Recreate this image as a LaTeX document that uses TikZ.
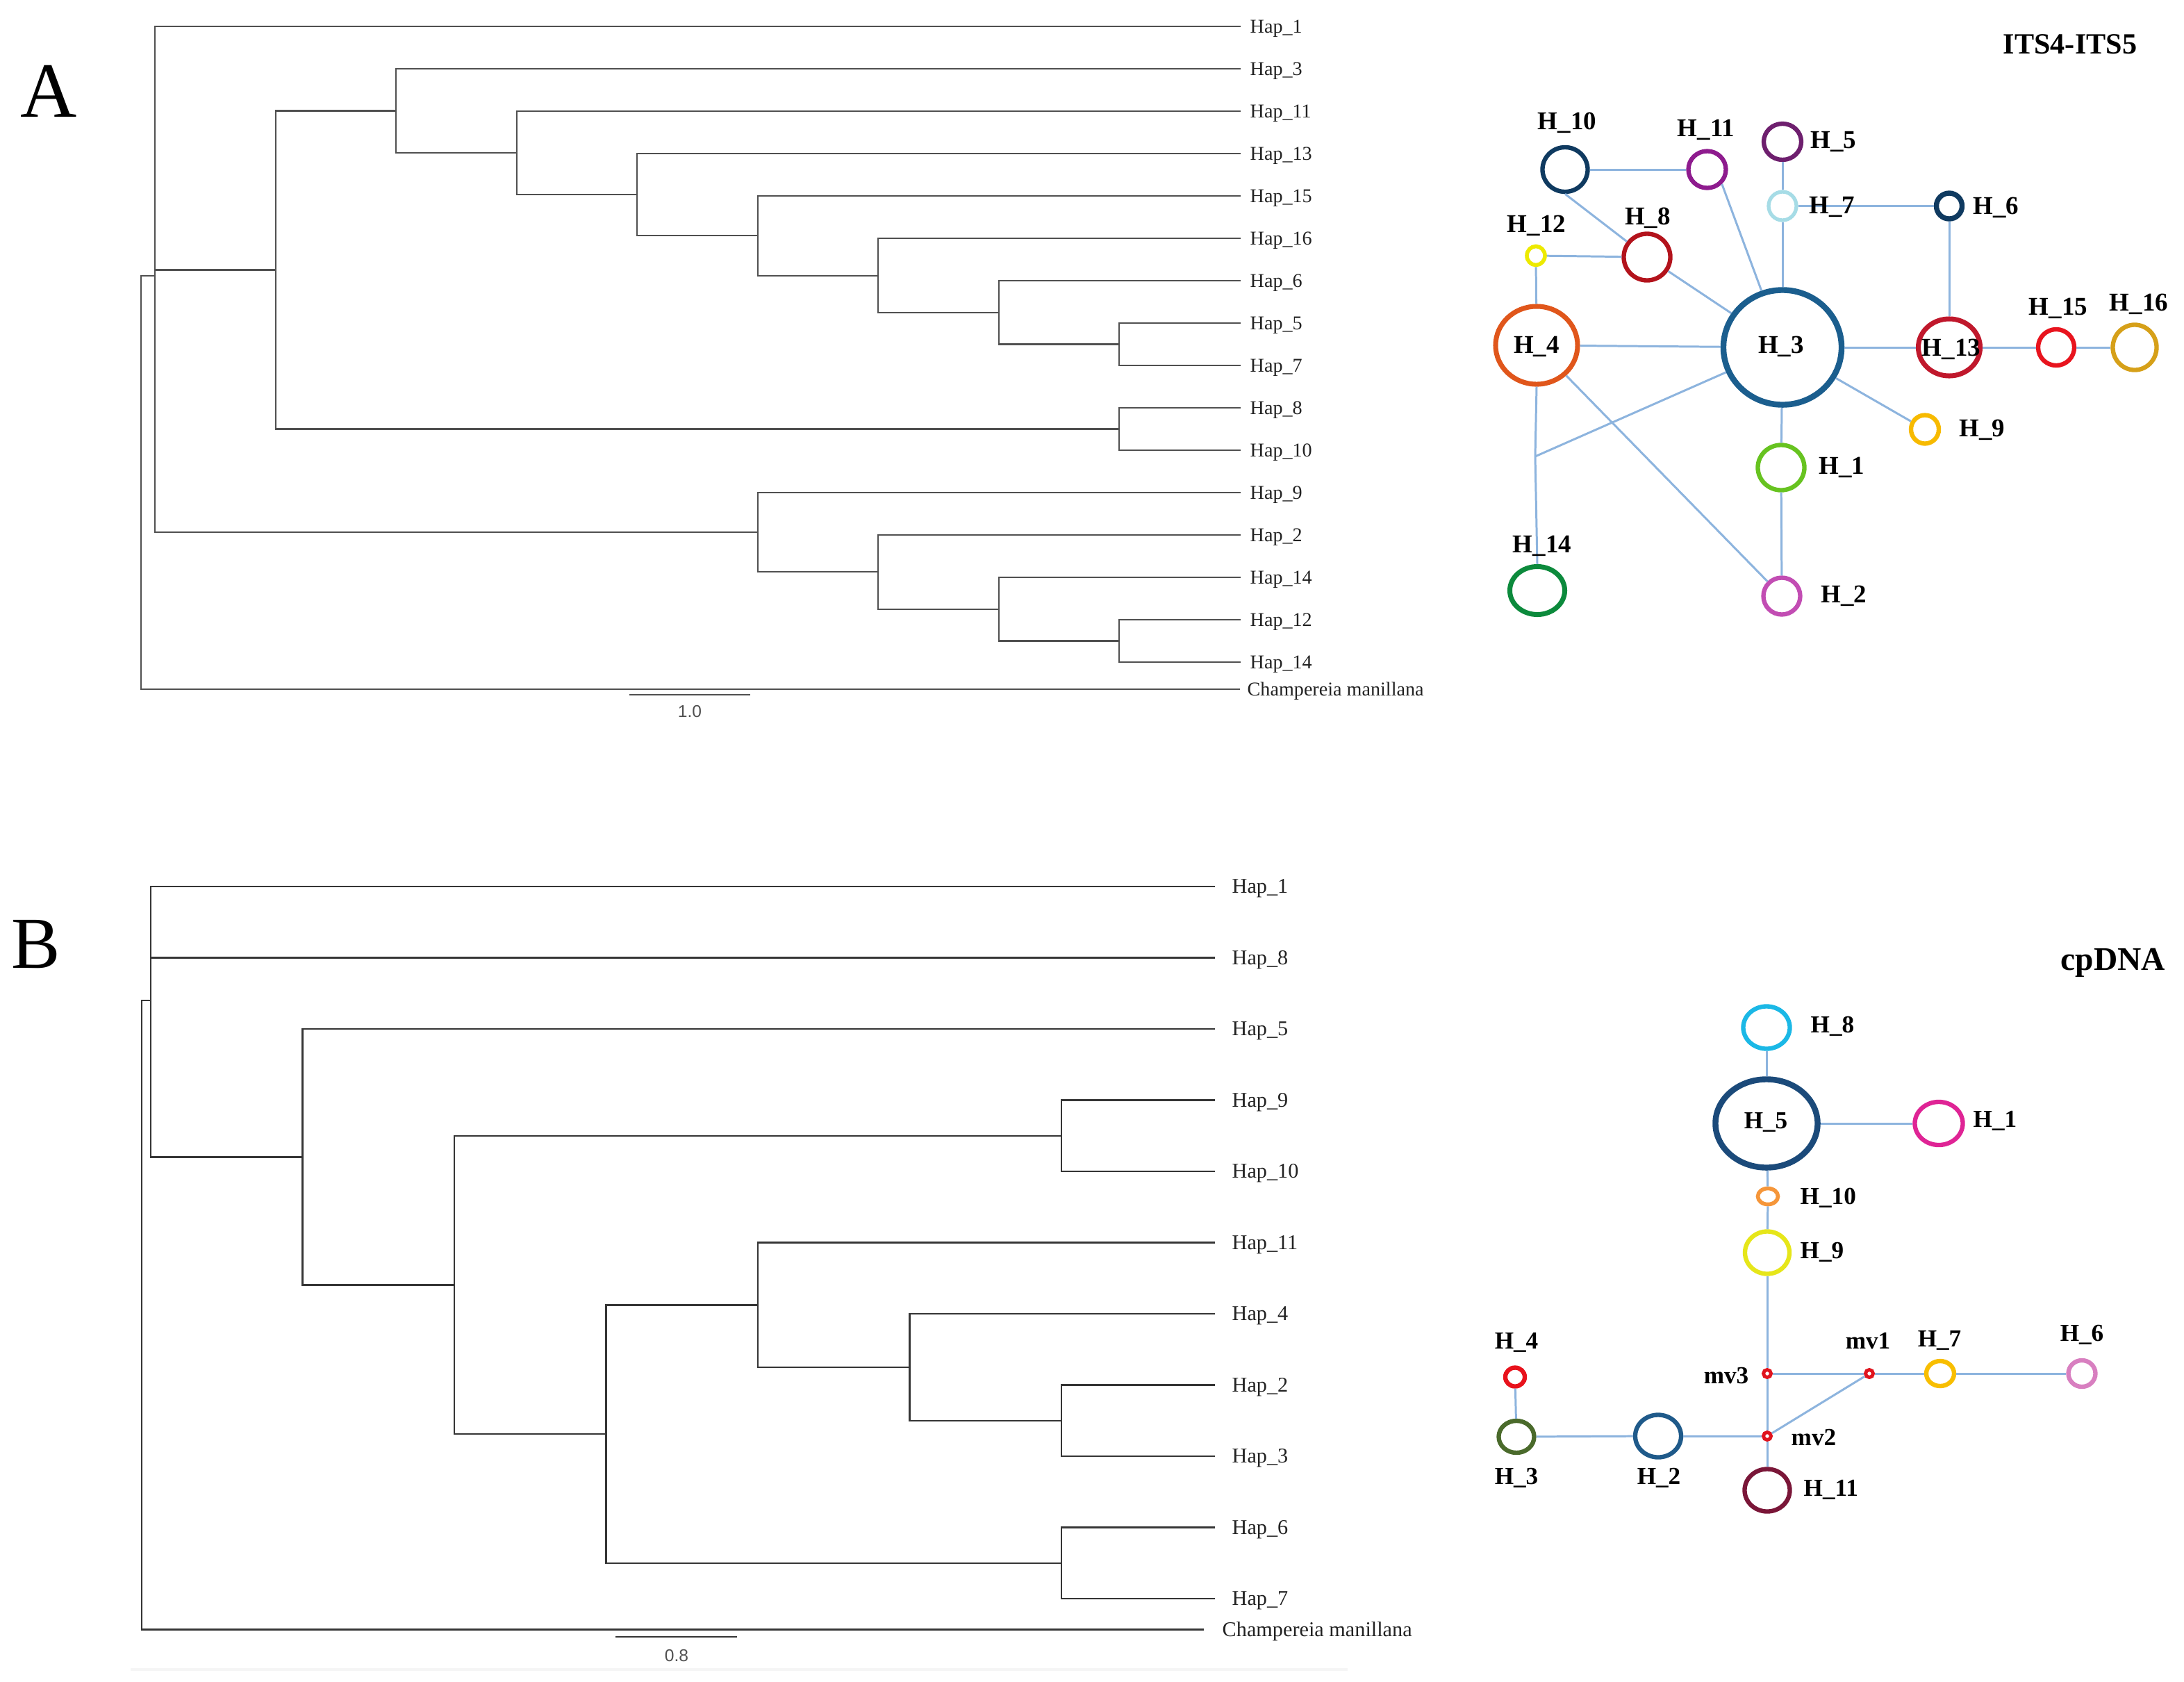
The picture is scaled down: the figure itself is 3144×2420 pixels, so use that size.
\documentclass[tikz,border=0pt]{standalone}
\usepackage{fontspec}
\setmainfont{Liberation Serif}
\newfontfamily\sansf{Liberation Sans}
\usetikzlibrary{shapes.geometric}
\definecolor{edgeblue}{HTML}{8DB4DE}
\definecolor{treegray}{HTML}{505050}
\definecolor{treedark}{HTML}{353535}
\definecolor{tipink}{HTML}{222222}
% network A colours
\definecolor{cAten}{HTML}{0F3A60}
\definecolor{cAeleven}{HTML}{8E1B8E}
\definecolor{cAfive}{HTML}{6E1F6E}
\definecolor{cAseven}{HTML}{A6DCE6}
\definecolor{cAsix}{HTML}{0F3A60}
\definecolor{cAtwelve}{HTML}{EDEA00}
\definecolor{cAeight}{HTML}{B3131C}
\definecolor{cAfour}{HTML}{E0561B}
\definecolor{cAthree}{HTML}{1B5E8E}
\definecolor{cAthirteen}{HTML}{C0182C}
\definecolor{cAfifteen}{HTML}{E8141E}
\definecolor{cAsixteen}{HTML}{D6A019}
\definecolor{cAnine}{HTML}{F7BA00}
\definecolor{cAone}{HTML}{67C320}
\definecolor{cAtwo}{HTML}{C24DB3}
\definecolor{cAfourteen}{HTML}{0C8A3C}
% network B colours
\definecolor{cBeight}{HTML}{1BB8E6}
\definecolor{cBfive}{HTML}{1B4A7A}
\definecolor{cBone}{HTML}{DF2495}
\definecolor{cBten}{HTML}{F5963A}
\definecolor{cBnine}{HTML}{E6E61A}
\definecolor{cBmv}{HTML}{E0141E}
\definecolor{cBseven}{HTML}{F8BE00}
\definecolor{cBsix}{HTML}{D87FC0}
\definecolor{cBfour}{HTML}{E8121C}
\definecolor{cBthree}{HTML}{4A6A2B}
\definecolor{cBtwo}{HTML}{1F5A8A}
\definecolor{cBeleven}{HTML}{7A1638}
\tikzset{
  sz/.style 2 args={minimum width=#1mm, minimum height=#2mm},
}
\begin{document}
\begin{tikzpicture}[x=0.01cm,y=-0.01cm,
  treeline/.style={draw=treegray, line width=0.6pt},
  treelineB/.style={draw=treedark, line width=0.75pt},
  tipA/.style={anchor=west, inner xsep=1.3mm, inner ysep=0pt, text height=5.6pt, text depth=0pt,
    text=tipink, font=\fontsize{8}{9}\selectfont},
  tipB/.style={anchor=west, inner xsep=2.4mm, inner ysep=0pt, text height=5.6pt, text depth=0pt,
    text=tipink, font=\fontsize{8.6}{9}\selectfont},
  hap/.style={ellipse, draw, line width=1.8pt, inner sep=0pt},
  lblA/.style={font=\fontsize{10.5}{12}\selectfont\bfseries, inner sep=0pt},
  lblB/.style={font=\fontsize{10}{12}\selectfont\bfseries, inner sep=0pt},
  link/.style={draw=edgeblue, line width=0.85pt},
  scalelbl/.style={font=\sansf\fontsize{7}{8}\selectfont, text=treegray, inner sep=0pt},
  panel/.style={inner sep=0pt},
  title/.style={inner sep=0pt, font=\bfseries},
]
\useasboundingbox (0,0) rectangle (3144,2420);
\fill[white] (0,0) rectangle (3144,2420);

% ================= Panel letters =================
\node[panel, font=\fontsize{32}{32}\selectfont] (PA) at (70,131) {A};
\node[panel, font=\fontsize{30}{30}\selectfont] (PB) at (52,1359) {B};

% ================= Tree A =================
\node[tipA] (a1)  at (1786,38)  {Hap\_1};
\node[tipA] (a3)  at (1786,99)  {Hap\_3};
\node[tipA] (a11) at (1786,160) {Hap\_11};
\node[tipA] (a13) at (1786,221) {Hap\_13};
\node[tipA] (a15) at (1786,282) {Hap\_15};
\node[tipA] (a16) at (1786,343) {Hap\_16};
\node[tipA] (a6)  at (1786,404) {Hap\_6};
\node[tipA] (a5)  at (1786,465) {Hap\_5};
\node[tipA] (a7)  at (1786,526) {Hap\_7};
\node[tipA] (a8)  at (1786,587) {Hap\_8};
\node[tipA] (a10) at (1786,648) {Hap\_10};
\node[tipA] (a9)  at (1786,709) {Hap\_9};
\node[tipA] (a2)  at (1786,770) {Hap\_2};
\node[tipA] (a14) at (1786,831) {Hap\_14};
\node[tipA] (a12) at (1786,892) {Hap\_12};
\node[tipA] (a14b) at (1786,953) {Hap\_14};
\node[tipA, inner xsep=1.0mm] (ach) at (1785,992) {Champereia manillana};

\coordinate (nA57)   at (1611,495.5);
\coordinate (nA6)    at (1438,450);
\coordinate (nA16)   at (1264,396.8);
\coordinate (nA15)   at (1091,339.4);
\coordinate (nA13)   at (917,280.2);
\coordinate (nA11)   at (744,220.1);
\coordinate (nA3)    at (570,159.5);
\coordinate (nA810)  at (1611,617.5);
\coordinate (nA1)    at (397,388.5);
\coordinate (nA1214) at (1611,922.5);
\coordinate (nA14)   at (1438,876.8);
\coordinate (nA2)    at (1264,823.4);
\coordinate (nA9)    at (1091,766.2);
\coordinate (A0)     at (223,397);
\coordinate (AO)     at (203,397);

\draw[treeline] (a5.west) -| (nA57) |- (a7.west);
\draw[treeline] (a6.west) -| (nA6) |- (nA57);
\draw[treeline] (a16.west) -| (nA16) |- (nA6);
\draw[treeline] (a15.west) -| (nA15) |- (nA16);
\draw[treeline] (a13.west) -| (nA13) |- (nA15);
\draw[treeline] (a11.west) -| (nA11) |- (nA13);
\draw[treeline] (a3.west) -| (nA3) |- (nA11);
\draw[treeline] (a8.west) -| (nA810) |- (a10.west);
\draw[treeline] (nA3) -| (nA1) |- (nA810);
\draw[treeline] (a12.west) -| (nA1214) |- (a14b.west);
\draw[treeline] (a14.west) -| (nA14) |- (nA1214);
\draw[treeline] (a2.west) -| (nA2) |- (nA14);
\draw[treeline] (a9.west) -| (nA9) |- (nA2);
\draw[treeline] (a1.west) -| (A0) |- (nA9);
\draw[treeline] (nA1) -- (nA1 -| A0);
\draw[treeline] (A0) -- (AO) |- (ach.west);

% scale bar A
\coordinate (sA1) at (906,1000);
\coordinate (sA2) at (1080,1000);
\draw[treeline] (sA1) -- (sA2);
\node[scalelbl] (sAl) at (993,1024) {1.0};

% ================= Tree B =================
\node[tipB] (b1)  at (1749,1276)   {Hap\_1};
\node[tipB] (b8)  at (1749,1378.5) {Hap\_8};
\node[tipB] (b5)  at (1749,1481)   {Hap\_5};
\node[tipB] (b9)  at (1749,1583.5) {Hap\_9};
\node[tipB] (b10) at (1749,1686)   {Hap\_10};
\node[tipB] (b11) at (1749,1788.5) {Hap\_11};
\node[tipB] (b4)  at (1749,1891)   {Hap\_4};
\node[tipB] (b2)  at (1749,1993.5) {Hap\_2};
\node[tipB] (b3)  at (1749,2096)   {Hap\_3};
\node[tipB] (b6)  at (1749,2198.5) {Hap\_6};
\node[tipB] (b7)  at (1749,2301)   {Hap\_7};
\node[tipB, inner xsep=2.6mm] (bch) at (1733,2345.5) {Champereia manillana};

\coordinate (nB910) at (1528,1634.8);
\coordinate (nB23)  at (1528,2044.8);
\coordinate (nB4)   at (1309.5,1967.9);
\coordinate (nB11)  at (1091,1878.2);
\coordinate (nB67)  at (1528,2249.8);
\coordinate (nB3)   at (872.5,2064);
\coordinate (nB2)   at (654,1849.4);
\coordinate (nB1)   at (435.5,1665.2);
\coordinate (B0)    at (217,1440);
\coordinate (BO)    at (204,1440);

\draw[treelineB] (b9.west) -| (nB910) |- (b10.west);
\draw[treelineB] (b2.west) -| (nB23) |- (b3.west);
\draw[treelineB] (b4.west) -| (nB4) |- (nB23);
\draw[treelineB] (b11.west) -| (nB11) |- (nB4);
\draw[treelineB] (b6.west) -| (nB67) |- (b7.west);
\draw[treelineB] (nB11) -| (nB3) |- (nB67);
\draw[treelineB] (nB910) -| (nB2) |- (nB3);
\draw[treelineB] (b5.west) -| (nB1) |- (nB2);
\draw[treelineB] (b1.west) -| (B0) |- (nB1);
\draw[treelineB] (b8.west) -- (b8.west -| B0);
\draw[treelineB] (B0) -- (BO) |- (bch.west);

% scale bar B
\coordinate (sB1) at (886,2356);
\coordinate (sB2) at (1061,2356);
\draw[treelineB] (sB1) -- (sB2);
\node[scalelbl] (sBl) at (974,2383) {0.8};
% faint bottom rule
\coordinate (fr1) at (188,2403);
\coordinate (fr2) at (1940,2403);
\draw[gray!8, line width=1pt] (fr1) -- (fr2);

% ================= Network A (ITS4-ITS5) =================
\node[title, font=\fontsize{12}{14}\selectfont\bfseries] (tA) at (2980,64) {ITS4-ITS5};

\node[hap, draw=cAten, sz={6.5}{6.4}]        (H10) at (2253,244) {};
\node[hap, draw=cAeleven, sz={5.4}{5.3}]     (H11) at (2457.5,244) {};
\node[hap, draw=cAfive, sz={5.4}{5.2}]       (H5)  at (2566,204) {};
\node[hap, draw=cAseven, line width=1.5pt, sz={4.0}{4.1}] (H7) at (2566,296.5) {};
\node[hap, draw=cAsix, line width=2.1pt, sz={3.7}{3.7}]   (H6) at (2806,296.5) {};
\node[hap, draw=cAtwelve, line width=1.6pt, sz={2.6}{2.7}] (H12) at (2211,368) {};
\node[hap, draw=cAeight, sz={6.7}{6.7}]      (H8)  at (2371,370) {};
\node[hap, draw=cAfour, line width=2pt, sz={11.8}{11.2}] (H4) at (2212,497) {};
\node[hap, draw=cAthree, line width=2.4pt, sz={17.0}{16.5}] (H3) at (2566,500) {};
\node[hap, draw=cAthirteen, line width=2pt, sz={8.9}{8.2}] (H13) at (2806,500) {};
\node[hap, draw=cAfifteen, sz={5.2}{5.2}]    (H15) at (2960,500) {};
\node[hap, draw=cAsixteen, sz={6.3}{6.5}]    (H16) at (3073,500) {};
\node[hap, draw=cAnine, sz={4.0}{4.1}]       (H9)  at (2771,618) {};
\node[hap, draw=cAone, sz={6.7}{6.5}]        (H1)  at (2564,673) {};
\node[hap, draw=cAtwo, sz={5.3}{5.3}]        (H2)  at (2565,858) {};
\node[hap, draw=cAfourteen, line width=2pt, sz={7.9}{6.9}] (H14) at (2213,850) {};
\coordinate (jA) at (2210,657);

\draw[link] (H10) -- (H11);
\draw[link] (H10.south) -- (H8);
\draw[link] (H12) -- (H8);
\draw[link] (H12) -- (H4);
\draw[link] (H11.south east) -- (H3);
\draw[link] (H5) -- (H7);
\draw[link] (H7) -- (H3);
\draw[link] (H7) -- (H6);
\draw[link] (H6) -- (H13);
\draw[link] (H8) -- (H3);
\draw[link] (H4) -- (H3);
\draw[link] (H3) -- (H13);
\draw[link] (H13) -- (H15);
\draw[link] (H15) -- (H16);
\draw[link] (H3) -- (H9);
\draw[link] (H3) -- (H1);
\draw[link] (H1) -- (H2);
\draw[link] (H4) -- (H2);
\draw[link] (H4.south) -- (jA) -- (H14.north);
\draw[link] (H3) -- (jA);

\node[lblA] (lA10) at (2256,177) {H\_10};
\node[lblA] (lA11) at (2456,187) {H\_11};
\node[lblA, anchor=west] (lA5) at (2606,204) {H\_5};
\node[lblA, anchor=west] (lA7) at (2604,298) {H\_7};
\node[lblA, anchor=west] (lA6) at (2840,299) {H\_6};
\node[lblA] (lA12) at (2212,325) {H\_12};
\node[lblA] (lA8)  at (2372,314) {H\_8};
\node[lblA] (lA4)  at (2212,499) {H\_4};
\node[lblA] (lA3)  at (2564,499) {H\_3};
\node[lblA] (lA13) at (2809,503) {H\_13};
\node[lblA] (lA15) at (2963,444) {H\_15};
\node[lblA] (lA16) at (3079,438) {H\_16};
\node[lblA, anchor=west] (lA9) at (2820,619) {H\_9};
\node[lblA, anchor=west] (lA1) at (2618,673) {H\_1};
\node[lblA, anchor=west] (lA2) at (2621,858) {H\_2};
\node[lblA] (lA14) at (2220,786) {H\_14};

% ================= Network B (cpDNA) =================
\node[title, font=\fontsize{13.5}{15}\selectfont\bfseries] (tB) at (3042,1386) {cpDNA};

\node[hap, draw=cBeight, sz={6.7}{6.1}]   (G8)  at (2543,1479) {};
\node[hap, draw=cBfive, line width=2.4pt, sz={14.7}{12.7}] (G5) at (2543,1617) {};
\node[hap, draw=cBone, sz={6.9}{6.2}]     (G1)  at (2791,1617) {};
\node[hap, draw=cBten, line width=1.6pt, sz={2.9}{2.3}] (G10) at (2545,1722) {};
\node[hap, draw=cBnine, sz={6.4}{6.1}]    (G9)  at (2544,1803) {};
\node[hap, draw=cBmv, line width=1.4pt, sz={1.1}{1.1}] (mv3) at (2544,1977) {};
\node[hap, draw=cBmv, line width=1.4pt, sz={1.1}{1.1}] (mv1) at (2691,1977) {};
\node[hap, draw=cBmv, line width=1.4pt, sz={1.1}{1.1}] (mv2) at (2544,2067) {};
\node[hap, draw=cBseven, sz={4.0}{3.6}]   (G7)  at (2793,1977) {};
\node[hap, draw=cBsix, sz={3.9}{3.8}]     (G6)  at (2997,1977) {};
\node[hap, draw=cBfour, sz={2.8}{2.7}]    (G4)  at (2181,1982) {};
\node[hap, draw=cBthree, sz={5.1}{4.6}]   (G3)  at (2183,2068) {};
\node[hap, draw=cBtwo, sz={6.6}{6.1}]     (G2)  at (2387,2067) {};
\node[hap, draw=cBeleven, sz={6.5}{6.1}]  (G11) at (2544,2145) {};

\draw[link] (G8) -- (G5);
\draw[link] (G5) -- (G1);
\draw[link] (G5) -- (G10);
\draw[link] (G10) -- (G9);
\draw[link] (G9) -- (mv3);
\draw[link] (mv3) -- (mv1);
\draw[link] (mv1) -- (G7);
\draw[link] (G7) -- (G6);
\draw[link] (mv3) -- (mv2);
\draw[link] (mv1) -- (mv2);
\draw[link] (mv2) -- (G11);
\draw[link] (mv2) -- (G2);
\draw[link] (G2) -- (G3);
\draw[link] (G3) -- (G4);

\node[lblB] (lB5) at (2542,1615) {H\_5};
\node[lblB, anchor=west] (lB8) at (2606,1477) {H\_8};
\node[lblB, anchor=west] (lB1) at (2840,1613) {H\_1};
\node[lblB, anchor=west] (lB10) at (2591,1724) {H\_10};
\node[lblB, anchor=west] (lB9) at (2591,1802) {H\_9};
\node[lblB, anchor=east] (lBmv3) at (2518,1980) {mv3};
\node[lblB] (lBmv1) at (2689,1930) {mv1};
\node[lblB] (lB7) at (2792,1929) {H\_7};
\node[lblB] (lB6) at (2997,1921) {H\_6};
\node[lblB, anchor=west] (lBmv2) at (2578,2069) {mv2};
\node[lblB] (lB4) at (2183,1932) {H\_4};
\node[lblB] (lB3) at (2183,2127) {H\_3};
\node[lblB] (lB2) at (2388,2127) {H\_2};
\node[lblB, anchor=west] (lB11) at (2596,2144) {H\_11};
\end{tikzpicture}
\end{document}
